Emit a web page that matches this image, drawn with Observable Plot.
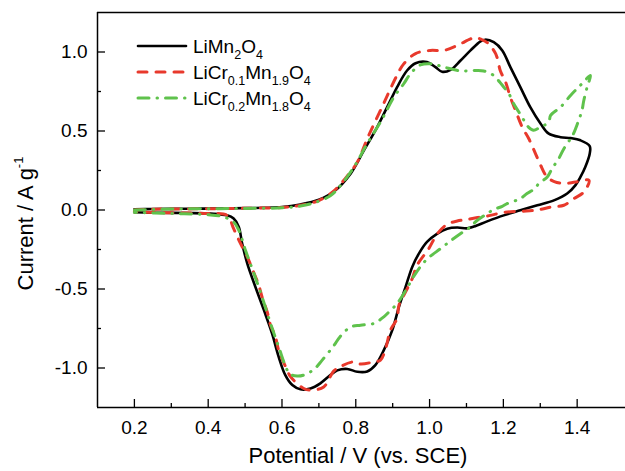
<!DOCTYPE html>
<html>
<head>
<meta charset="utf-8">
<script src="https://cdn.jsdelivr.net/npm/d3@7"></script>
<script src="https://cdn.jsdelivr.net/npm/@observablehq/plot@0.6"></script>
<style>
  html, body { margin: 0; padding: 0; background: #fff; }
  #chart { width: 625px; height: 471px; }
</style>
</head>
<body>
<div id="chart"></div>
<script>
// ---------- data (potential V vs. SCE, current A/g), in sweep order ----------
const liMn2O4 = [
  [0.2,0.004],[0.25,0.006],[0.3,0.007],[0.35,0.008],[0.4,0.009],[0.45,0.010],[0.5,0.012],[0.55,0.014],
  [0.6,0.018],[0.65,0.035],[0.70,0.065],[0.74,0.115],[0.786,0.23],[0.822,0.377],[0.858,0.525],
  [0.885,0.651],[0.912,0.778],[0.939,0.883],[0.962,0.929],[0.993,0.936],[1.016,0.904],[1.034,0.875],
  [1.057,0.887],[1.084,0.946],[1.111,1.01],[1.138,1.068],[1.151,1.078],[1.174,1.062],[1.197,1.01],
  [1.219,0.904],[1.246,0.778],[1.273,0.651],[1.301,0.546],[1.323,0.483],[1.355,0.461],[1.382,0.455],
  [1.409,0.441],[1.434,0.405],
  [1.434,0.356],[1.422,0.272],[1.409,0.209],[1.395,0.156],[1.373,0.104],[1.337,0.061],[1.292,0.03],
  [1.246,-0.002],[1.201,-0.034],[1.156,-0.072],[1.12,-0.105],[1.102,-0.116],[1.075,-0.111],[1.048,-0.118],
  [1.021,-0.149],[0.993,-0.202],[0.971,-0.276],[0.953,-0.36],[0.935,-0.487],[0.917,-0.613],[0.899,-0.76],
  [0.876,-0.887],[0.853,-0.982],[0.831,-1.022],[0.804,-1.024],[0.777,-1.006],[0.750,-1.015],[0.731,-1.045],
  [0.704,-1.097],[0.677,-1.13],[0.650,-1.135],[0.628,-1.108],[0.609,-1.045],[0.591,-0.929],[0.573,-0.781],
  [0.551,-0.634],[0.528,-0.487],[0.506,-0.339],[0.492,-0.212],[0.483,-0.107],[0.469,-0.054],[0.451,-0.034],
  [0.406,-0.023],[0.35,-0.019],[0.25,-0.017],[0.2,-0.014]
];
const liCr01 = [
  [0.2,0.0],[0.25,0.005],[0.3,0.006],[0.4,0.008],[0.5,0.011],[0.6,0.016],[0.65,0.03],[0.7,0.06],
  [0.74,0.12],[0.777,0.215],[0.804,0.303],[0.835,0.472],[0.872,0.656],[0.91,0.845],[0.93,0.925],
  [0.962,0.99],[1.002,1.01],[1.039,1.01],[1.075,1.041],[1.111,1.083],[1.125,1.092],[1.14,1.08],
  [1.156,1.06],[1.179,0.99],[1.192,0.88],[1.206,0.81],[1.219,0.714],[1.233,0.63],[1.251,0.525],
  [1.269,0.451],[1.287,0.357],[1.301,0.283],[1.318,0.21],[1.338,0.18],[1.365,0.168],[1.395,0.177],
  [1.432,0.188],
  [1.418,0.114],[1.391,0.072],[1.364,0.03],[1.328,0.018],[1.292,0.0],[1.251,-0.008],[1.2,-0.015],
  [1.165,-0.034],[1.13,-0.048],[1.1,-0.06],[1.075,-0.07],[1.048,-0.09],[1.021,-0.15],[0.998,-0.244],
  [0.966,-0.35],[0.953,-0.434],[0.935,-0.518],[0.917,-0.602],[0.912,-0.686],[0.894,-0.76],[0.881,-0.876],
  [0.867,-0.95],[0.849,-0.961],[0.813,-0.975],[0.795,-0.961],[0.759,-0.99],[0.74,-1.02],[0.713,-1.12],
  [0.677,-1.14],[0.659,-1.13],[0.623,-1.055],[0.614,-1.013],[0.591,-0.887],[0.582,-0.80],[0.569,-0.729],
  [0.56,-0.645],[0.546,-0.55],[0.537,-0.476],[0.519,-0.37],[0.506,-0.297],[0.483,-0.19],[0.469,-0.118],
  [0.451,-0.034],[0.4,-0.022],[0.3,-0.018],[0.2,-0.012]
];
const liCr02 = [
  [0.2,0.0],[0.3,0.006],[0.4,0.008],[0.5,0.010],[0.6,0.014],[0.65,0.025],[0.686,0.045],[0.731,0.09],
  [0.759,0.156],[0.795,0.272],[0.831,0.42],[0.872,0.578],[0.903,0.714],[0.93,0.799],[0.948,0.862],
  [0.975,0.918],[1.007,0.925],[1.039,0.904],[1.084,0.881],[1.124,0.883],[1.147,0.88],[1.174,0.851],
  [1.19,0.81],[1.201,0.778],[1.215,0.736],[1.228,0.672],[1.242,0.62],[1.256,0.567],[1.268,0.525],
  [1.282,0.505],[1.30,0.525],[1.323,0.556],[1.328,0.599],[1.355,0.651],[1.382,0.725],[1.395,0.757],
  [1.413,0.799],[1.436,0.851],
  [1.427,0.778],[1.418,0.693],[1.413,0.63],[1.404,0.567],[1.39,0.483],[1.382,0.451],[1.364,0.388],
  [1.35,0.325],[1.332,0.262],[1.319,0.209],[1.296,0.167],[1.285,0.135],[1.264,0.104],[1.246,0.072],
  [1.21,0.04],[1.197,0.023],[1.174,0.003],[1.156,-0.023],[1.124,-0.076],[1.111,-0.107],[1.093,-0.135],
  [1.06,-0.19],[1.03,-0.244],[0.99,-0.318],[0.957,-0.42],[0.94,-0.49],[0.912,-0.592],[0.89,-0.645],
  [0.876,-0.676],[0.849,-0.718],[0.813,-0.729],[0.786,-0.74],[0.758,-0.8],[0.74,-0.86],[0.709,-0.95],
  [0.686,-1.01],[0.659,-1.045],[0.641,-1.051],[0.623,-1.04],[0.614,-1.013],[0.591,-0.866],[0.569,-0.718],
  [0.546,-0.55],[0.524,-0.402],[0.501,-0.255],[0.483,-0.128],[0.469,-0.076],[0.442,-0.044],[0.4,-0.03],
  [0.3,-0.022],[0.2,-0.015]
];

// ---------- axes ----------
const xDomain = [0.1, 1.531];
const yDomain = [-1.25, 1.25];
const xMajor = [0.2, 0.4, 0.6, 0.8, 1.0, 1.2, 1.4];
const xTickLabels = ["0.2", "0.4", "0.6", "0.8", "1.0", "1.2", "1.4"];
const xMinor = [0.3, 0.5, 0.7, 0.9, 1.1, 1.3];
const yMajor = [-1.0, -0.5, 0.0, 0.5, 1.0];
const yTickLabels = ["-1.0", "-0.5", "0.0", "0.5", "1.0"];
const yMinor = [-0.75, -0.25, 0.25, 0.75];
const xTitle = "Potential / V (vs. SCE)";
const yTitle = ["Current / A g", "-1"];

// ---------- legend (text parts: [text, isSubscript]) ----------
const legendLabels = [
  [["LiMn", 0], ["2", 1], ["O", 0], ["4", 1]],
  [["LiCr", 0], ["0.1", 1], ["Mn", 0], ["1.9", 1], ["O", 0], ["4", 1]],
  [["LiCr", 0], ["0.2", 1], ["Mn", 0], ["1.8", 1], ["O", 0], ["4", 1]]
];

const FONT = "'Liberation Sans', Arial, Helvetica, sans-serif";
const colors = ["#000000", "#e8392c", "#5fc24c"];
const dashes = [null, "9,9", "11,8,0.5,8"];
const widths = [2.6, 3, 3];
const series = [liMn2O4, liCr01, liCr02];

const W = 625, H = 471, mL = 97, mT = 12, mB = 64, mR = 0;
const plotW = W - mL - mR, plotH = H - mT - mB;

const lineMarks = series.map((s, i) => Plot.line(s, {
  x: d => d[0], y: d => d[1],
  stroke: colors[i], strokeWidth: widths[i],
  strokeDasharray: dashes[i] ?? undefined,
  curve: "catmull-rom"
}));

const plot = Plot.plot({
  width: W, height: H,
  marginLeft: mL, marginTop: mT, marginBottom: mB, marginRight: mR,
  x: { domain: xDomain },
  y: { domain: yDomain },
  style: { fontFamily: FONT, background: "#fff", color: "#000", overflow: "visible" },
  marks: [
    // inward ticks
    Plot.gridX(xMajor, { stroke: "#000", strokeOpacity: 1, strokeWidth: 1.3, insetTop: plotH - 8 }),
    Plot.gridX(xMinor, { stroke: "#000", strokeOpacity: 1, strokeWidth: 1.3, insetTop: plotH - 4 }),
    Plot.gridY(yMajor, { stroke: "#000", strokeOpacity: 1, strokeWidth: 1.3, insetRight: plotW - 8 }),
    Plot.gridY(yMinor, { stroke: "#000", strokeOpacity: 1, strokeWidth: 1.3, insetRight: plotW - 4 }),
    // tick labels
    Plot.axisX(xMajor, { tickSize: 0, tickPadding: 13, fontSize: 19, label: null,
      tickFormat: d => xTickLabels[xMajor.indexOf(d)] }),
    Plot.axisY(yMajor, { tickSize: 0, tickPadding: 10, fontSize: 19, label: null,
      tickFormat: d => yTickLabels[yMajor.indexOf(d)] }),
    // frame (left, bottom, top)
    Plot.ruleX([xDomain[0]], { stroke: "#000", strokeWidth: 1.5 }),
    Plot.ruleY(yDomain, { stroke: "#000", strokeWidth: 1.5 }),
    ...lineMarks
  ]
});

document.getElementById("chart").appendChild(plot);

// ---------- titles & legend ----------
const svg = d3.select(plot);

svg.append("text")
  .attr("x", mL + plotW / 2 - 3).attr("y", 463)
  .attr("text-anchor", "middle")
  .attr("font-family", FONT).attr("font-size", 22).attr("fill", "#000")
  .text(xTitle);

const yt = svg.append("text")
  .attr("transform", `translate(33,${mT + plotH / 2 + 14}) rotate(-90)`)
  .attr("text-anchor", "middle")
  .attr("font-family", FONT).attr("font-size", 22).attr("fill", "#000");
yt.append("tspan").text(yTitle[0]);
yt.append("tspan").attr("font-size", 13).attr("dy", -10).text(yTitle[1]);

const leg = svg.append("g").attr("font-family", FONT).attr("fill", "#000").attr("text-anchor", "start");
const legY = [46, 72, 98];
legendLabels.forEach((parts, i) => {
  const y = legY[i];
  const ln = leg.append("line")
    .attr("x1", 138).attr("x2", 186).attr("y1", y).attr("y2", y)
    .attr("stroke", colors[i]).attr("stroke-width", widths[i]).attr("stroke-linecap", "round");
  if (dashes[i]) ln.attr("stroke-dasharray", dashes[i]);
  const t = leg.append("text").attr("x", 193).attr("y", y + 7)
    .attr("font-size", 19).attr("text-anchor", "start");
  let shifted = false;
  parts.forEach(([txt, sub]) => {
    const ts = t.append("tspan").text(txt);
    if (sub && !shifted) { ts.attr("dy", 6).attr("font-size", 12.5); shifted = true; }
    else if (sub) ts.attr("font-size", 12.5);
    else if (!sub && shifted) { ts.attr("dy", -6); shifted = false; }
  });
});
</script>
</body>
</html>
